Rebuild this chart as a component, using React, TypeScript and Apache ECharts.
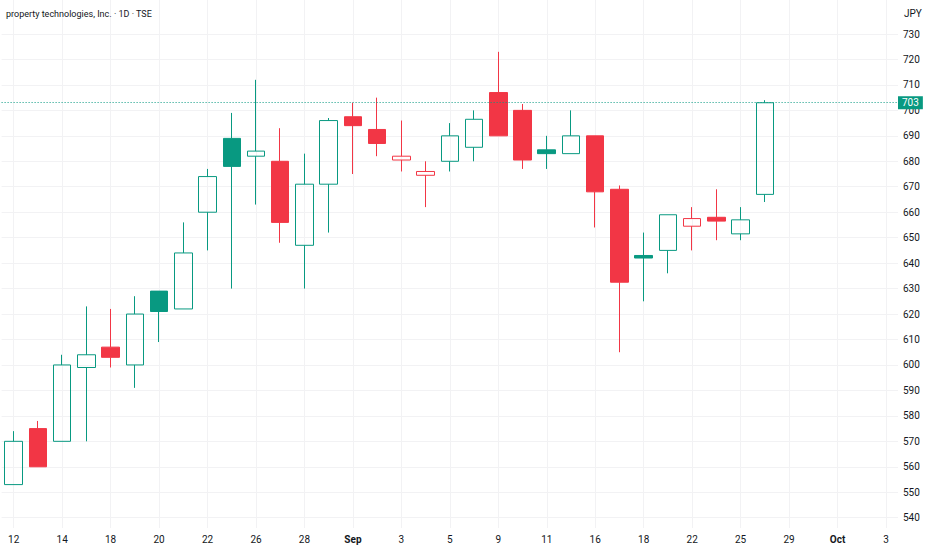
import React, { useEffect, useRef } from 'react';
import * as echarts from 'echarts';

const titleText = 'property technologies, Inc. · 1D · TSE';
const currency = 'JPY';

const dates = [
  '08-12', '08-13', '08-14', '08-15', '08-18', '08-19', '08-20', '08-21', '08-22',
  '08-25', '08-26', '08-27', '08-28', '08-29',
  '09-01', '09-02', '09-03', '09-04', '09-05', '09-08', '09-09', '09-10', '09-11', '09-12',
  '09-16', '09-17', '09-18', '09-19', '09-22', '09-24', '09-25', '09-26',
  '09-29', '09-30', '10-01', '10-02', '10-03',
];

const tickLabels = [
  '12', '', '14', '', '18', '', '20', '', '22', '', '26', '', '28', '',
  'Sep', '', '3', '', '5', '', '9', '', '11', '', '16', '', '18', '', '22', '', '25', '',
  '29', '', 'Oct', '', '3',
];
const monthLabels = ['Sep', 'Oct'];

const opens = [
  553, 575, 570, 599, 607, 600, 629, 622, 660, 689, 682, 680, 647, 671,
  697.5, 692.5, 680.5, 674.5, 680, 685.5, 707, 700, 684.5, 683,
  690, 669, 643, 645, 654.5, 658, 651.5, 667,
];
const closes = [
  570, 560, 600, 604, 603, 620, 621, 644, 674, 678, 684, 656, 671, 696,
  694, 687, 682, 676, 690, 696.5, 690, 680.5, 683, 690,
  668, 632.5, 642, 659, 657.5, 656.5, 657, 703,
];
const lows = [
  553, 560, 570, 570, 599, 591, 609, 622, 645, 630, 663, 648, 630, 652,
  675, 682, 676, 662, 676, 680, 690, 677, 677, 683,
  654, 605, 625, 636, 645, 649, 649, 664,
];
const highs = [
  574, 578, 604, 623, 622, 627, 629, 656, 677, 699, 712, 693, 683, 697,
  703, 705, 696, 680, 695, 700, 723, 702.5, 690, 700,
  690, 670.5, 652, 659, 662, 669, 662, 704,
];

const UP = '#089981';
const DOWN = '#F23645';
const GRID = '#F2F2F4';
const TEXT = '#131722';

export default function App() {
  const ref = useRef<HTMLDivElement>(null);

  useEffect(() => {
    if (!ref.current) return;
    const chart = echarts.init(ref.current, null, { renderer: 'svg' });

    const items = opens.map((o, i) => {
      const c = closes[i];
      const prev = i > 0 ? closes[i - 1] : o;
      const color = c >= prev ? UP : DOWN;
      const fill = c > o ? 'rgba(255,255,255,0)' : color;
      return {
        value: [o, c, lows[i], highs[i]],
        itemStyle: { color: fill, color0: fill, borderColor: color, borderColor0: color, borderWidth: 1 },
      };
    });

    const lastIdx = closes.length - 1;
    const lastClose = closes[lastIdx];
    const lastColor = lastClose >= closes[lastIdx - 1] ? UP : DOWN;

    chart.setOption({
      animation: false,
      backgroundColor: '#ffffff',
      textStyle: { fontFamily: 'Roboto, "Noto Sans", sans-serif' },
      title: [
        {
          text: titleText,
          left: 6,
          top: 9,
          padding: 0,
          textStyle: {
            fontSize: 9,
            fontWeight: 'normal',
            color: TEXT,
            fontFamily: '"Liberation Sans Narrow", Roboto, sans-serif',
          },
        },
        {
          text: currency,
          left: 904,
          top: 8,
          padding: 0,
          textStyle: { fontSize: 10, fontWeight: 'normal', color: TEXT, fontFamily: 'Roboto, sans-serif' },
        },
      ],
      grid: [
        { left: 13.7, right: 46, top: 0, bottom: 22 },
        { left: 1.6, right: 34, top: 34, bottom: 32.3 },
      ],
      xAxis: [
        {
          type: 'value',
          gridIndex: 0,
          min: 0,
          max: tickLabels.length - 1,
          interval: 2,
          axisLine: { show: false },
          axisTick: { show: false },
          splitLine: { show: true, lineStyle: { color: GRID, width: 1 } },
          axisLabel: {
            margin: 6,
            fontSize: 10,
            color: TEXT,
            formatter: (v: number) => {
              const s = tickLabels[Math.round(v)] || '';
              return monthLabels.includes(s) ? `{b|${s}}` : s;
            },
            rich: { b: { fontWeight: 'bold', fontSize: 10, color: TEXT } },
          },
        },
        {
          type: 'category',
          gridIndex: 1,
          data: dates,
          boundaryGap: true,
          show: false,
        },
      ],
      yAxis: [
        { type: 'value', gridIndex: 0, min: 0, max: 1, show: false },
        {
          type: 'value',
          gridIndex: 1,
          position: 'right',
          min: 540,
          max: 730,
          interval: 10,
          axisLine: { show: false },
          axisTick: { show: false },
          axisLabel: { margin: 5, fontSize: 10, color: TEXT },
          splitLine: { show: true, lineStyle: { color: GRID, width: 1 } },
        },
      ],
      series: [
        {
          type: 'candlestick',
          xAxisIndex: 1,
          yAxisIndex: 1,
          data: items,
          barWidth: 18,
          clip: false,
          markLine: {
            silent: true,
            symbol: ['none', 'none'],
            data: [{ yAxis: lastClose }],
            lineStyle: { color: lastColor, type: [1, 2], width: 1 },
            label: {
              show: true,
              position: 'end',
              distance: 0,
              formatter: String(lastClose),
              color: '#ffffff',
              backgroundColor: lastColor,
              padding: [2, 4, 1, 4],
              fontSize: 10,
            },
            emphasis: { disabled: true },
          },
        },
      ],
    });

    return () => chart.dispose();
  }, []);

  return (
    <div
      ref={ref}
      style={{ position: 'fixed', left: 0, top: 0, width: 932, height: 550, background: '#fff' }}
    />
  );
}
